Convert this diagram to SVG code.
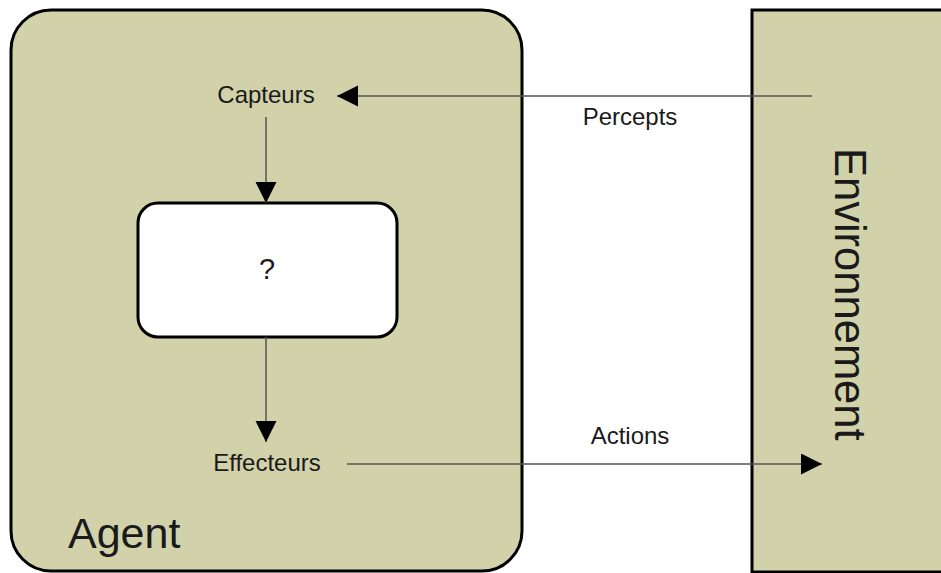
<svg xmlns="http://www.w3.org/2000/svg" width="941" height="573" viewBox="0 0 941 573">
  <style>
    .box { fill: #d1d1aa; stroke: #000; stroke-width: 3; }
    .inner { fill: #fff; stroke: #000; stroke-width: 3; }
    .lbl { font-family: "Liberation Sans", Arial, sans-serif; fill: #1a1a1a; }
    .link { stroke: #555; stroke-width: 1.5; fill: none; marker-end: url(#head); }
  </style>
  <defs>
    <marker id="head" markerUnits="userSpaceOnUse" markerWidth="22" markerHeight="22" refX="21" refY="10.5" orient="auto">
      <path d="M0,0 L21,10.5 L0,21 z" fill="#000"/>
    </marker>
  </defs>
  <rect width="941" height="573" fill="#fff"/>

  <g id="agent">
    <rect class="box" x="11" y="10" width="511" height="561" rx="40" ry="40"/>
    <text class="lbl" x="68" y="548" font-size="43">Agent</text>
  </g>

  <g id="environnement">
    <rect class="box" x="752" y="10" width="200" height="562"/>
    <text class="lbl" font-size="43.5" transform="translate(835,148) rotate(90)">Environnement</text>
  </g>

  <g id="capteurs">
    <text class="lbl" x="266" y="103" font-size="24" text-anchor="middle">Capteurs</text>
  </g>

  <g id="decision">
    <rect class="inner" x="138" y="203" width="259" height="134" rx="20" ry="20"/>
    <text class="lbl" x="267" y="279" font-size="29" text-anchor="middle">?</text>
  </g>

  <g id="effecteurs">
    <text class="lbl" x="267" y="471" font-size="24" text-anchor="middle">Effecteurs</text>
  </g>

  <g id="connectors">
    <line class="link" x1="812" y1="96" x2="337" y2="96"/>
    <text class="lbl" x="630" y="125" font-size="24" text-anchor="middle">Percepts</text>
    <line class="link" x1="266" y1="117" x2="266" y2="203"/>
    <line class="link" x1="266" y1="337" x2="266" y2="442"/>
    <line class="link" x1="347" y1="464" x2="822" y2="464"/>
    <text class="lbl" x="630" y="444" font-size="24" text-anchor="middle">Actions</text>
  </g>
</svg>
